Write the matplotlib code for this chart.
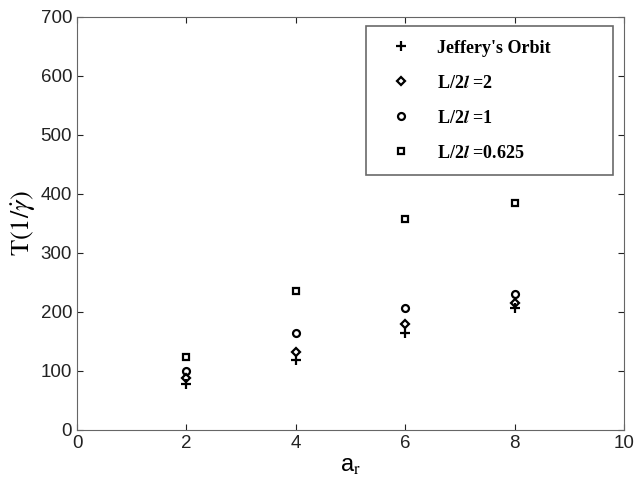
import matplotlib
matplotlib.use("Agg")
import matplotlib.pyplot as plt

# ── data ──────────────────────────────────────────────────────────────────
ar = [2, 4, 6, 8]
jeffery = [78, 118, 165, 207]
ratio_2 = [88, 133, 180, 215]
ratio_1 = [100, 165, 207, 230]
ratio_0625 = [123, 235, 357, 385]

plt.rcParams["font.family"] = ["Liberation Sans", "DejaVu Sans"]
plt.rcParams["mathtext.fontset"] = "stix"

fig = plt.figure(figsize=(6.35, 4.94), dpi=100)
ax = fig.add_axes([0.1213, 0.1296, 0.8614, 0.836])

mk = dict(linestyle="none", color="black", markerfacecolor="none",
          markeredgewidth=1.6)
ax.plot(ar, jeffery, marker="+", markersize=7, label="Jeffery's Orbit", **mk)
ax.plot(ar, ratio_2, marker="D", markersize=4, label=r"L/2$\mathbfit{l}$ =2", **mk)
ax.plot(ar, ratio_1, marker="o", markersize=5, label=r"L/2$\mathbfit{l}$ =1", **mk)
ax.plot(ar, ratio_0625, marker="s", markersize=5, label=r"L/2$\mathbfit{l}$ =0.625", **mk)

ax.set_xlim(0, 10)
ax.set_ylim(0, 700)
ax.set_xticks(range(0, 11, 2))
ax.set_yticks(range(0, 701, 100))
ax.tick_params(direction="in", length=4, labelsize=13.5, colors="#222222",
               top=True, right=True)
ax.tick_params(labeltop=False, labelright=False)
for s in ax.spines.values():
    s.set_color("#666666")

ax.set_xlabel(r"a$_\mathrm{r}$", fontsize=17, labelpad=2)
ax.set_ylabel(r"$\mathrm{T}(1/\dot{\gamma})$", fontsize=19, labelpad=2)

# wide box, entries left aligned (as in the reference)
leg = ax.legend(loc="upper left", bbox_to_anchor=(0.528, 0.0, 0.4516, 0.978),
                mode="expand",
                prop={"family": "Liberation Serif", "weight": "bold", "size": 13},
                frameon=True, fancybox=False, edgecolor="#444444",
                labelspacing=1.0, handletextpad=0.8, borderpad=0.75,
                borderaxespad=0.0, handlelength=2.4)
leg.get_frame().set_linewidth(1.2)

fig.savefig("out.png", dpi=100, facecolor="white")
